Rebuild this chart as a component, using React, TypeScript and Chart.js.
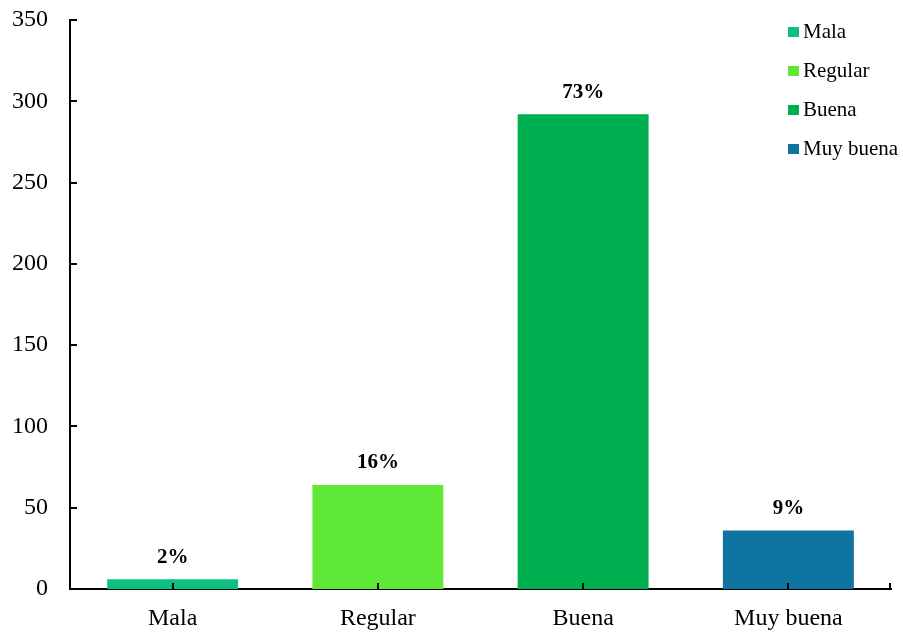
import React, { useEffect, useRef } from "react";
import { Chart, registerables } from "chart.js";

Chart.register(...registerables);

const categories = ["Mala", "Regular", "Buena", "Muy buena"];
const counts = [6, 64, 292, 36];
const colors = ["#0CC07F", "#5FE835", "#00B050", "#0F75A0"];
const yTicks = [0, 50, 100, 150, 200, 250, 300, 350];

const FONT = "'Liberation Serif', 'Times New Roman', serif";

const total = counts.reduce((a, b) => a + b, 0);
const pctLabels = counts.map((v) => Math.round((v / total) * 100) + "%");

const labelPlugin = {
  id: "pctLabels",
  afterDatasetsDraw(chart: any) {
    const ctx = chart.ctx;
    const meta = chart.getDatasetMeta(0);
    ctx.save();
    ctx.font = `bold 21px ${FONT}`;
    ctx.fillStyle = "#000";
    ctx.textAlign = "center";
    ctx.textBaseline = "middle";
    meta.data.forEach((bar: any, i: number) => {
      ctx.fillText(pctLabels[i], bar.x, bar.y - 22);
    });
    ctx.restore();
  },
};

const innerTicksPlugin = {
  id: "innerTicks",
  afterDraw(chart: any) {
    const ctx = chart.ctx;
    const { left, right, bottom } = chart.chartArea;
    const xs = chart.scales.x;
    const ys = chart.scales.y;
    ctx.save();
    ctx.strokeStyle = "#000";
    ctx.lineWidth = 2;
    ctx.beginPath();
    yTicks.forEach((v) => {
      const y = Math.round(ys.getPixelForValue(v));
      ctx.moveTo(left, y);
      ctx.lineTo(left + 7, y);
    });
    categories.forEach((_, i) => {
      const x = Math.round(xs.getPixelForTick(i));
      ctx.moveTo(x, bottom);
      ctx.lineTo(x, bottom - 6);
    });
    ctx.moveTo(right - 1, bottom);
    ctx.lineTo(right - 1, bottom - 6);
    ctx.stroke();
    ctx.restore();
  },
};

const legendPlugin = {
  id: "innerLegend",
  afterDraw(chart: any) {
    const ctx = chart.ctx;
    const { right, top } = chart.chartArea;
    const bx = right - 103;
    ctx.save();
    ctx.font = `21px ${FONT}`;
    ctx.textAlign = "left";
    ctx.textBaseline = "middle";
    categories.forEach((c, i) => {
      const cy = top + 12 + i * 39;
      ctx.fillStyle = colors[i];
      ctx.fillRect(bx, cy - 5, 11, 10);
      ctx.fillStyle = "#000";
      ctx.fillText(c, bx + 15, cy);
    });
    ctx.restore();
  },
};

export default function App() {
  const ref = useRef<HTMLCanvasElement | null>(null);
  useEffect(() => {
    if (!ref.current) return;
    const chart = new Chart(ref.current, {
      type: "bar",
      data: {
        labels: categories,
        datasets: [
          {
            data: counts,
            backgroundColor: colors,
            borderWidth: 0,
            categoryPercentage: 1,
            barPercentage: 0.638,
          },
        ],
      },
      options: {
        responsive: false,
        animation: false,
        layout: { padding: { left: 0, top: 20, right: 12, bottom: 0 } },
        plugins: {
          legend: { display: false },
          tooltip: { enabled: false },
        },
        scales: {
          x: {
            grid: { display: false, drawTicks: false },
            border: { display: true, color: "#000", width: 2 },
            ticks: {
              color: "#000",
              font: { family: FONT, size: 24 },
              padding: 15,
              maxRotation: 0,
            },
            afterFit: (s: any) => {
              s.height = 44;
              s.paddingLeft = 0;
              s.paddingRight = 0;
            },
          },
          y: {
            min: 0,
            max: 350,
            grid: { display: false, drawTicks: false },
            border: { display: true, color: "#000", width: 2 },
            ticks: {
              stepSize: 50,
              color: "#000",
              font: { family: FONT, size: 24 },
              padding: 22,
            },
            afterFit: (s: any) => {
              s.width = 70;
              s.paddingTop = 0;
              s.paddingBottom = 0;
            },
          },
        },
      },
      plugins: [labelPlugin, innerTicksPlugin, legendPlugin],
    });
    return () => chart.destroy();
  }, []);
  return (
    <div style={{ position: "absolute", left: 0, top: 0, width: 903, height: 633, background: "#fff" }}>
      <canvas ref={ref} width={903} height={633} style={{ display: "block" }} />
    </div>
  );
}
